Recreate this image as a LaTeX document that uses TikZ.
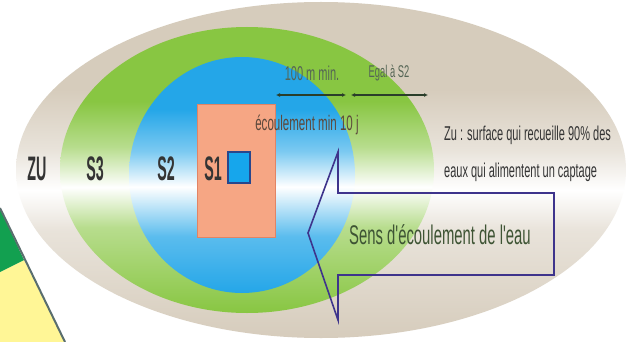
\documentclass[tikz,border=0pt]{standalone}
\usepackage{fontspec}
\newfontfamily\narrowsans{Liberation Sans}[FakeStretch=0.55]
\newfontfamily\condsans{Liberation Sans}[FakeStretch=0.42]
\usetikzlibrary{arrows.meta, positioning}
\definecolor{zubeige}{RGB}{214, 204, 188}
\definecolor{sgreen}{RGB}{136, 198, 66}
\definecolor{sblue}{RGB}{36, 166, 232}
\definecolor{salmon1}{RGB}{246, 166, 132}
\definecolor{salmonedge}{RGB}{226, 132, 100}
\definecolor{wellblue}{RGB}{22, 166, 236}
\definecolor{welledge}{RGB}{40, 70, 140}
\definecolor{arrownavy}{RGB}{62, 52, 140}
\definecolor{dimgreen}{RGB}{42, 62, 42}
\definecolor{textgray}{RGB}{52, 52, 52}
\definecolor{flowbrown}{RGB}{92, 72, 60}
\definecolor{senscol}{RGB}{62, 84, 52}
\definecolor{cornergreen}{RGB}{18, 160, 80}
\definecolor{corneryellow}{RGB}{255, 246, 150}
\definecolor{cornerline}{RGB}{90, 110, 110}

% glossy bands (0bp = bottom, box mapped on 25bp..75bp)
\pgfdeclareverticalshading{zushade}{100bp}{color(0bp)=(zubeige); color(25bp)=(zubeige); color(41bp)=(zubeige!55!white); color(47bp)=(white); color(53bp)=(zubeige!55!white); color(62bp)=(zubeige); color(100bp)=(zubeige)}
\pgfdeclareverticalshading{sthreeshade}{100bp}{color(0bp)=(sgreen); color(25bp)=(sgreen); color(40bp)=(sgreen!60!white); color(47bp)=(white); color(54bp)=(sgreen!60!white); color(62bp)=(sgreen); color(100bp)=(sgreen)}
\pgfdeclareverticalshading{stwoshade}{100bp}{color(0bp)=(sblue); color(25bp)=(sblue); color(37bp)=(sblue!75!white); color(47.5bp)=(white); color(55bp)=(sblue!60!white); color(64bp)=(sblue); color(100bp)=(sblue)}

\tikzset{
  zonelabel/.style={font=\condsans\bfseries\fontsize{34}{34}\selectfont, text=textgray, inner sep=0pt},
  dimlabel/.style={font=\narrowsans\fontsize{20}{20}\selectfont, text=dimgreen!80!white, inner sep=0pt},
  dimline/.style={dimgreen, line width=1.6pt, {Latex[length=4pt,width=4pt]}-{Latex[length=4pt,width=4pt]}},
}

\begin{document}
\begin{tikzpicture}[x=1pt, y=-1pt]
  \useasboundingbox (0, 0) rectangle (628, 342);
  \fill[white] (0, 0) rectangle (628, 342);

  % Corner of the other map
  \fill[corneryellow] (0, 272) -- (24, 260) -- (65, 342) -- (0, 342) -- cycle;
  \fill[cornergreen] (0, 208) -- (24, 260) -- (0, 272) -- cycle;
  \draw[cornerline, line width=2pt] (0, 208) -- (65, 342);

  % Zones
  \shade[shading=zushade] (321, 170) ellipse [x radius=305, y radius=168];
  \shade[shading=sthreeshade] (247, 170) ellipse [x radius=187, y radius=143];
  \shade[shading=stwoshade] (242, 175) ellipse [x radius=113, y radius=118];
  \filldraw[fill=salmon1, draw=salmonedge, line width=0.8pt] (197, 104) rectangle (275, 237);
  \filldraw[fill=wellblue, draw=welledge, line width=1.5pt] (228, 152) rectangle (250, 183);

  % Zone names
  \node[zonelabel] (zu) at (37, 169) {ZU};
  \node[zonelabel] (sthree) at (95, 169) {S3};
  \node[zonelabel] (stwo) at (166, 169) {S2};
  \node[zonelabel] (sone) at (213, 169) {S1};

  % Distances
  \coordinate (dimA) at (276, 95);
  \coordinate (dimB) at (346, 95);
  \coordinate (dimC) at (351, 95);
  \coordinate (dimD) at (428, 95);
  \draw[dimline] (dimA) -- (dimB);
  \draw[dimline] (dimC) -- (dimD);
  \node[dimlabel] (hundred) at (312, 73) {100 m min.};
  \node[dimlabel, font=\narrowsans\fontsize{17}{17}\selectfont] (egal) at (389, 73) {Egal à S2};
  \node[font=\narrowsans\fontsize{21}{21}\selectfont, text=flowbrown, inner sep=0pt] (tenday) at (307, 125) {écoulement min 10 j};

  % Definition of ZU
  \node[font=\narrowsans\fontsize{20}{37}\selectfont, text=textgray, align=left, anchor=west, inner sep=0pt] (zudef) at (444, 154)
    {Zu : surface qui recueille 90\% des\\eaux qui alimentent un captage};

  % Flow arrow
  \draw[arrownavy, line width=1.6pt, line join=miter]
    (308, 233) -- (338, 152) -- (338, 193) -- (554, 193) -- (554, 275) -- (338, 275) -- (338, 320) -- cycle;
  \node[font=\narrowsans\fontsize{27}{27}\selectfont, text=senscol, inner sep=0pt] (sens) at (440, 235) {Sens d'écoulement de l'eau};
\end{tikzpicture}
\end{document}
